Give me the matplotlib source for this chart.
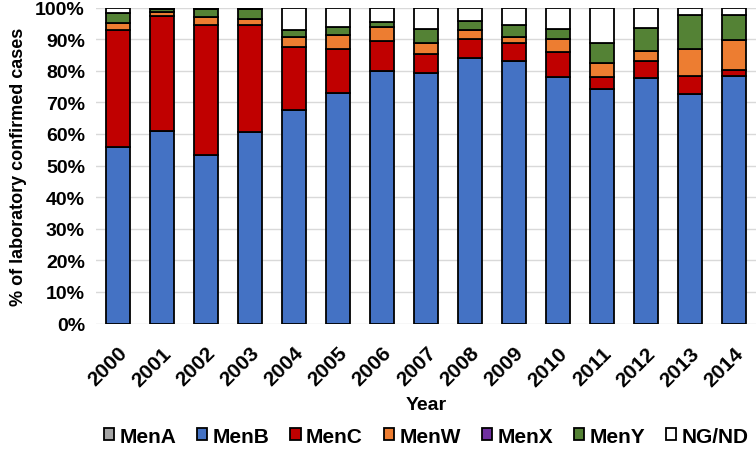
import numpy as np
import matplotlib.pyplot as plt

plt.rcParams['font.family'] = ['Liberation Sans', 'DejaVu Sans']

years = ['2000', '2001', '2002', '2003', '2004', '2005', '2006', '2007',
         '2008', '2009', '2010', '2011', '2012', '2013', '2014']
men_a = [0, 0, 0, 0, 0, 0, 0, 0, 0, 0, 0, 0, 0, 0, 0]
men_b = [56.0, 61.0, 53.5, 60.6, 67.6, 72.9, 80.0, 79.2, 84.1, 83.1, 78.0, 74.2, 77.7, 72.7, 78.2]
men_c = [36.8, 36.2, 41.0, 34.0, 20.0, 14.1, 9.3, 6.2, 5.9, 5.8, 7.8, 3.9, 5.5, 5.7, 2.0]
men_w = [2.4, 1.5, 2.5, 1.7, 3.1, 4.2, 4.5, 3.3, 2.9, 1.8, 4.2, 4.5, 3.2, 8.4, 9.6]
men_x = [0, 0, 0, 0, 0, 0, 0, 0, 0, 0, 0, 0, 0, 0, 0]
men_y = [3.1, 1.0, 2.5, 3.4, 2.1, 2.8, 1.5, 4.5, 2.7, 3.7, 3.3, 6.1, 7.2, 10.7, 7.9]
ng_nd = [1.7, 0.3, 0.5, 0.3, 7.2, 6.0, 4.7, 6.8, 4.4, 5.6, 6.7, 11.3, 6.4, 2.5, 2.3]

series = [('MenA', men_a, '#A5A5A5'), ('MenB', men_b, '#4472C4'),
          ('MenC', men_c, '#C00000'), ('MenW', men_w, '#ED7D31'),
          ('MenX', men_x, '#7030A0'), ('MenY', men_y, '#548235'),
          ('NG/ND', ng_nd, '#FFFFFF')]

fig = plt.figure(figsize=(7.56, 4.52), dpi=100)
ax = fig.add_axes([0.127, 0.282, 0.873, 0.699])

x = np.arange(len(years))
bottom = np.zeros(len(years))
for name, vals, col in series:
    vals = np.array(vals, dtype=float)
    ax.bar(x, vals, 0.53, bottom=bottom, color=col, edgecolor='black',
           linewidth=1.3, label=name, zorder=3)
    bottom += vals

ax.set_xlim(-0.5, len(years) - 0.5)
ax.set_ylim(0, 100)
ax.set_yticks(range(0, 101, 10))
ax.set_yticklabels([f'{v}%' for v in range(0, 101, 10)], fontsize=14, fontweight='bold')
ax.set_xticks(x)
ax.set_xticklabels(years, rotation=45, ha='right', rotation_mode='anchor',
                   fontsize=15, fontweight='bold')
ax.tick_params(axis='y', length=0, pad=8)
ax.tick_params(axis='x', length=0, pad=14)
ax.grid(axis='y', color='#D9D9D9', linewidth=1, zorder=0)
for s in ax.spines.values():
    s.set_visible(False)

ax.set_xlabel('Year', fontsize=14, fontweight='bold', labelpad=5)
ax.set_ylabel('% of laboratory confirmed cases', fontsize=13, fontweight='bold', labelpad=6)

ax.legend(loc='center', bbox_to_anchor=(0.5, -0.356), ncol=7, frameon=False,
          prop={'size': 15, 'weight': 'bold'}, handlelength=0.5, handleheight=0.5,
          handletextpad=0.25, columnspacing=1.0, borderpad=0)

fig.savefig('out.png', dpi=100)
